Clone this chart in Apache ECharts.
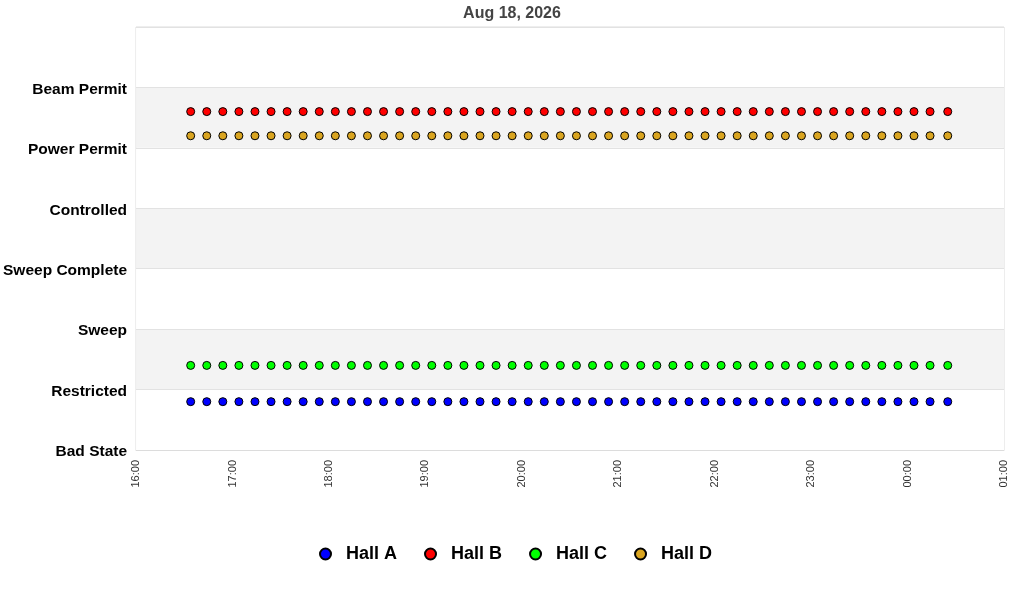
<!DOCTYPE html>
<html lang="en">
<head>
    <meta charset="UTF-8">
    <title>Hall states</title>
</head>
<style>
    body{
        margin: 0;
        padding: 0;
        background-color: #fff;
    }
    .main{
        width: 1024px;
        height: 600px;
    }
</style>
<body>
    <div class="main"></div>
</body>
<script src="https://cdn.jsdelivr.net/npm/echarts/dist/echarts.min.js"></script>
<script>
  // state names, index = y value
  var stateNames = ['Bad State', 'Restricted', 'Sweep', 'Sweep Complete', 'Controlled', 'Power Permit', 'Beam Permit'];

  var chartTitle = 'Aug 18, 2026';
  var xMin = '2026-08-18 16:00';
  var xMax = '2026-08-19 01:00';

  // sample times, every 10 minutes
  var times = [
    '2026-08-18 16:34', '2026-08-18 16:44', '2026-08-18 16:54',
    '2026-08-18 17:04', '2026-08-18 17:14', '2026-08-18 17:24', '2026-08-18 17:34', '2026-08-18 17:44', '2026-08-18 17:54',
    '2026-08-18 18:04', '2026-08-18 18:14', '2026-08-18 18:24', '2026-08-18 18:34', '2026-08-18 18:44', '2026-08-18 18:54',
    '2026-08-18 19:04', '2026-08-18 19:14', '2026-08-18 19:24', '2026-08-18 19:34', '2026-08-18 19:44', '2026-08-18 19:54',
    '2026-08-18 20:04', '2026-08-18 20:14', '2026-08-18 20:24', '2026-08-18 20:34', '2026-08-18 20:44', '2026-08-18 20:54',
    '2026-08-18 21:04', '2026-08-18 21:14', '2026-08-18 21:24', '2026-08-18 21:34', '2026-08-18 21:44', '2026-08-18 21:54',
    '2026-08-18 22:04', '2026-08-18 22:14', '2026-08-18 22:24', '2026-08-18 22:34', '2026-08-18 22:44', '2026-08-18 22:54',
    '2026-08-18 23:04', '2026-08-18 23:14', '2026-08-18 23:24', '2026-08-18 23:34', '2026-08-18 23:44', '2026-08-18 23:54',
    '2026-08-19 00:04', '2026-08-19 00:14', '2026-08-19 00:25'
  ];

  // y values per hall (state index with a small per-hall offset)
  var hallA = [
    0.8, 0.8, 0.8, 0.8, 0.8, 0.8, 0.8, 0.8, 0.8, 0.8, 0.8, 0.8,
    0.8, 0.8, 0.8, 0.8, 0.8, 0.8, 0.8, 0.8, 0.8, 0.8, 0.8, 0.8,
    0.8, 0.8, 0.8, 0.8, 0.8, 0.8, 0.8, 0.8, 0.8, 0.8, 0.8, 0.8,
    0.8, 0.8, 0.8, 0.8, 0.8, 0.8, 0.8, 0.8, 0.8, 0.8, 0.8, 0.8
  ];
  var hallB = [
    5.6, 5.6, 5.6, 5.6, 5.6, 5.6, 5.6, 5.6, 5.6, 5.6, 5.6, 5.6,
    5.6, 5.6, 5.6, 5.6, 5.6, 5.6, 5.6, 5.6, 5.6, 5.6, 5.6, 5.6,
    5.6, 5.6, 5.6, 5.6, 5.6, 5.6, 5.6, 5.6, 5.6, 5.6, 5.6, 5.6,
    5.6, 5.6, 5.6, 5.6, 5.6, 5.6, 5.6, 5.6, 5.6, 5.6, 5.6, 5.6
  ];
  var hallC = [
    1.4, 1.4, 1.4, 1.4, 1.4, 1.4, 1.4, 1.4, 1.4, 1.4, 1.4, 1.4,
    1.4, 1.4, 1.4, 1.4, 1.4, 1.4, 1.4, 1.4, 1.4, 1.4, 1.4, 1.4,
    1.4, 1.4, 1.4, 1.4, 1.4, 1.4, 1.4, 1.4, 1.4, 1.4, 1.4, 1.4,
    1.4, 1.4, 1.4, 1.4, 1.4, 1.4, 1.4, 1.4, 1.4, 1.4, 1.4, 1.4
  ];
  var hallD = [
    5.2, 5.2, 5.2, 5.2, 5.2, 5.2, 5.2, 5.2, 5.2, 5.2, 5.2, 5.2,
    5.2, 5.2, 5.2, 5.2, 5.2, 5.2, 5.2, 5.2, 5.2, 5.2, 5.2, 5.2,
    5.2, 5.2, 5.2, 5.2, 5.2, 5.2, 5.2, 5.2, 5.2, 5.2, 5.2, 5.2,
    5.2, 5.2, 5.2, 5.2, 5.2, 5.2, 5.2, 5.2, 5.2, 5.2, 5.2, 5.2
  ];

  var hallNames = ['Hall A', 'Hall B', 'Hall C', 'Hall D'];
  var hallColors = ['#0000ff', '#ff0000', '#00ff00', '#daa520'];
  var hallValues = [hallA, hallB, hallC, hallD];

  function toMs(s) {
    var p = s.split(/[- :]/).map(Number);
    return new Date(p[0], p[1] - 1, p[2], p[3], p[4]).getTime();
  }

  var myChart = echarts.init(document.querySelector('.main'));

  var series = hallNames.map(function (name, i) {
    return {
      name: name,
      type: 'scatter',
      symbol: 'circle',
      symbolSize: 8,
      itemStyle: { color: hallColors[i], borderColor: '#000', borderWidth: 1, opacity: 1 },
      data: times.map(function (t, k) { return [toMs(t), hallValues[i][k]]; })
    };
  });

  var option = {
    animation: false,
    title: {
      text: chartTitle,
      left: 'center',
      top: 1,
      textStyle: { fontFamily: 'Liberation Sans', fontSize: 16, fontWeight: 'bold', color: '#444' }
    },
    legend: {
      bottom: 32,
      left: 314,
      itemWidth: 11,
      itemHeight: 11,
      itemGap: 27,
      icon: 'circle',
      data: hallNames,
      textStyle: { fontFamily: 'Liberation Sans', fontSize: 18, fontWeight: 'bold', color: '#000', padding: [0, 0, 0, 10] }
    },
    grid: {
      left: 136,
      right: 20,
      top: 27,
      bottom: 150,
      show: true,
      borderColor: '#dcdcdc',
      borderWidth: 1
    },
    xAxis: {
      type: 'time',
      min: toMs(xMin),
      max: toMs(xMax),
      minInterval: 3600 * 1000,
      maxInterval: 3600 * 1000,
      axisLine: { lineStyle: { color: '#dcdcdc' } },
      axisTick: { show: false },
      splitLine: { show: false },
      axisLabel: {
        rotate: 90,
        margin: 10,
        fontFamily: 'Liberation Sans',
        fontSize: 11,
        color: '#333',
        showMinLabel: true,
        showMaxLabel: true,
        formatter: function (v) { return echarts.time.format(v, '{HH}:{mm}', false); }
      }
    },
    yAxis: {
      type: 'value',
      min: 0,
      max: 7,
      interval: 1,
      axisLine: { show: false },
      axisTick: { show: false },
      splitLine: { lineStyle: { color: '#e2e2e2' } },
      splitArea: { show: true, areaStyle: { color: ['#ffffff', '#f3f3f3'] } },
      axisLabel: {
        margin: 9,
        formatter: function (v) { return stateNames[v] ? '{s|' + stateNames[v] + '}' : ''; },
        rich: {
          s: {
            fontFamily: 'Liberation Sans',
            fontSize: 15.5,
            fontWeight: 'bold',
            color: '#000',
            padding: [4, 0, 0, 0]
          }
        }
      }
    },
    series: series
  };

  myChart.setOption(option);
</script>
</html>
